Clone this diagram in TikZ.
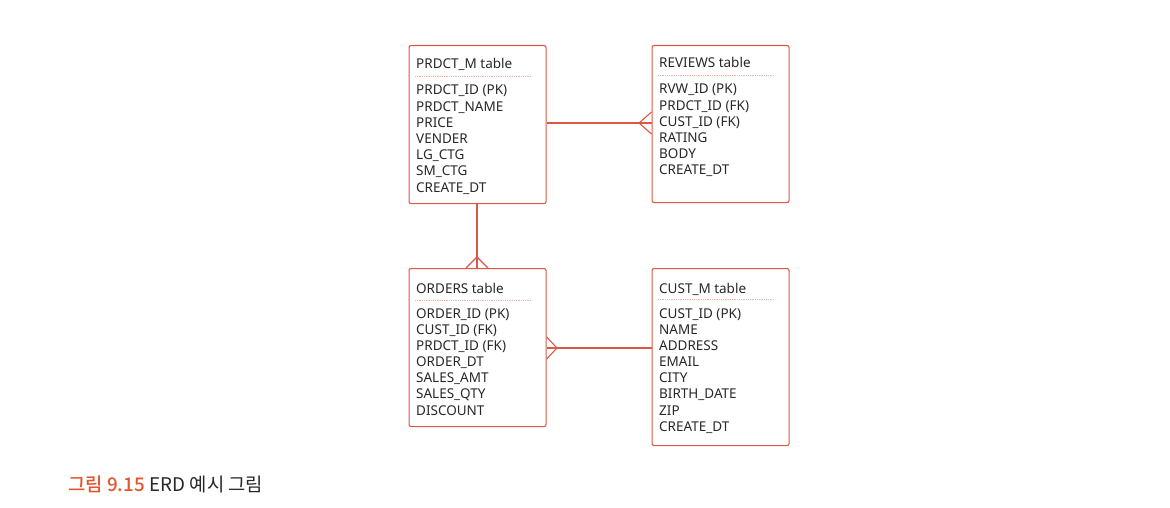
\documentclass[tikz,border=0pt]{standalone}
\usepackage{fontspec}
\setmainfont{Noto Sans}
\newfontfamily\kr{Noto Sans CJK KR}
\newfontfamily\krb{Noto Sans CJK KR Medium}
\definecolor{erd}{RGB}{218,88,70}
\definecolor{sep}{RGB}{240,180,160}
\definecolor{txt}{RGB}{40,40,40}
\definecolor{capt}{RGB}{226,86,48}
\newcommand\fieldlist[4]{\foreach \t [count=\i] in {#4} {\node[field] (#1-\i) at (#2,{#3+16.17*(\i-1)}) {\t};}}
\begin{document}
\begin{tikzpicture}[x=1pt,y=-1pt,
  tbl/.style={draw=erd, line width=1.1pt, rounded corners=2pt, anchor=north west, inner sep=0pt, minimum width=137pt},
  field/.style={anchor=base west, inner sep=0pt, text=txt, font=\fontsize{13.5}{15}\selectfont},
  ttl/.style={field},
  sepline/.style={draw=sep, line width=0.8pt, densely dotted},
  rel/.style={draw=erd, line width=1.1pt}]
\useasboundingbox (0,0) rectangle (1170,508);
\fill[white] (0,0) rectangle (1170,508);
% tables
\node[tbl, minimum height=158pt] (prd) at (408.5,45) {};
\node[tbl, minimum height=157pt] (rvw) at (651.5,45) {};
\node[tbl, minimum height=158pt] (ord) at (408.5,268) {};
\node[tbl, minimum height=177pt] (cst) at (651.5,268) {};
% titles
\node[ttl] (prdt) at (416,69) {PRDCT\_M table};
\node[ttl] (rvwt) at (659,68) {REVIEWS table};
\node[ttl] (ordt) at (416,293) {ORDERS table};
\node[ttl] (cstt) at (659,293) {CUST\_M table};
% separators
\coordinate (ps1) at (415,76); \coordinate (ps2) at (532,76);
\coordinate (rs1) at (658,75); \coordinate (rs2) at (775,75);
\coordinate (os1) at (415,300); \coordinate (os2) at (532,300);
\coordinate (cs1) at (658,299); \coordinate (cs2) at (775,299);
\draw[sepline] (ps1) -- (ps2);
\draw[sepline] (rs1) -- (rs2);
\draw[sepline] (os1) -- (os2);
\draw[sepline] (cs1) -- (cs2);
% fields
\fieldlist{pf}{416}{95}{PRDCT\_ID (PK),PRDCT\_NAME,PRICE,VENDER,LG\_CTG,SM\_CTG,CREATE\_DT}
\fieldlist{rf}{659}{94}{RVW\_ID (PK),PRDCT\_ID (FK),CUST\_ID (FK),RATING,BODY,CREATE\_DT}
\fieldlist{of}{416}{318}{ORDER\_ID (PK),CUST\_ID (FK),PRDCT\_ID (FK),ORDER\_DT,SALES\_AMT,SALES\_QTY,DISCOUNT}
\fieldlist{cf}{659}{318}{CUST\_ID (PK),NAME,ADDRESS,EMAIL,CITY,BIRTH\_DATE,ZIP,CREATE\_DT}
% relation PRDCT_M -- REVIEWS (many at REVIEWS)
\coordinate (r1a) at (prd.east |- 0,123);
\coordinate (r1b) at (rvw.west |- 0,123);
\coordinate (r1c) at (639,123);
\draw[rel] (r1a) -- (r1b);
\draw[rel] (r1b |- 0,112) -- (r1c) -- (r1b |- 0,134);
% relation PRDCT_M -- ORDERS (many at ORDERS)
\coordinate (r2a) at (prd.south -| 477,0);
\coordinate (r2b) at (ord.north -| 477,0);
\coordinate (r2c) at (477,257);
\draw[rel] (r2a) -- (r2b);
\draw[rel] (r2b -| 466,0) -- (r2c) -- (r2b -| 488,0);
% relation ORDERS -- CUST_M (many at ORDERS)
\coordinate (r3a) at (ord.east |- 0,348);
\coordinate (r3b) at (cst.west |- 0,348);
\coordinate (r3c) at (557,348);
\draw[rel] (r3a) -- (r3b);
\draw[rel] (r3a |- 0,337) -- (r3c) -- (r3a |- 0,359);
% caption
\node[anchor=base west, inner sep=0pt, font=\fontsize{18.8}{20}\selectfont] (cap) at (68,491)
  {{\krb\color{capt}그림 9.15} {\kr\color{txt}ERD 예시 그림}};
\end{tikzpicture}
\end{document}
